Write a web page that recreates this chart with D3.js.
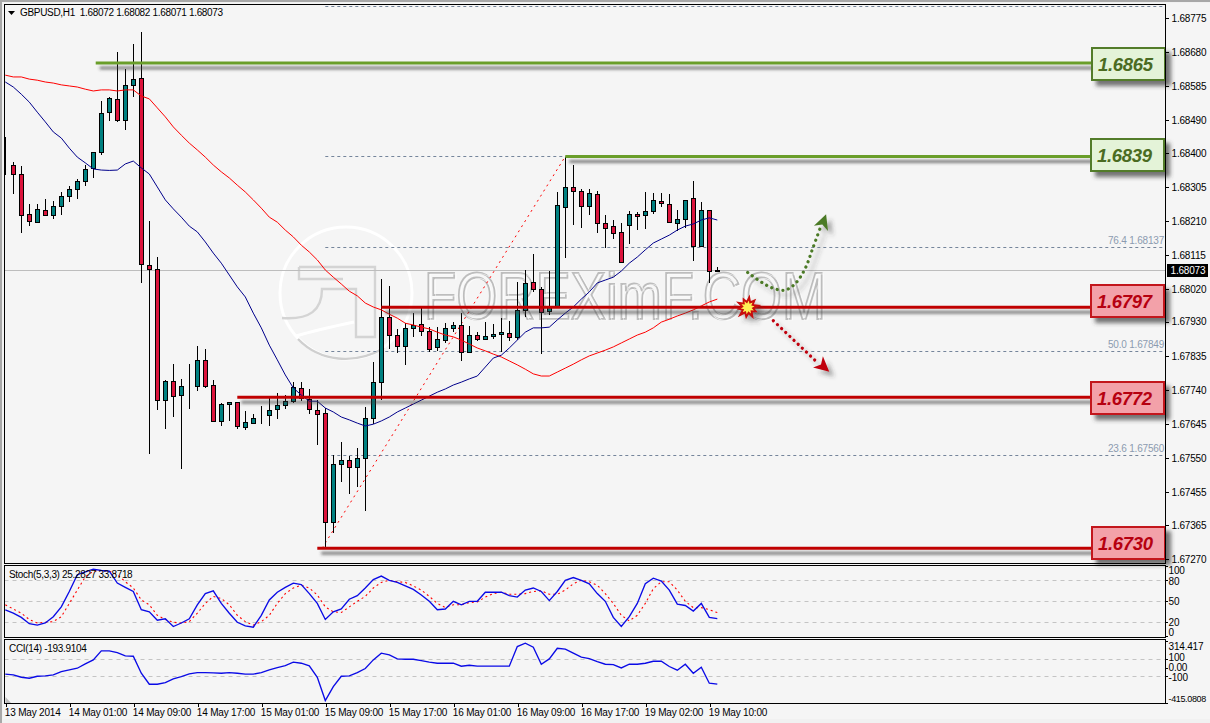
<!DOCTYPE html>
<html>
<head>
<meta charset="utf-8">
<title>GBPUSD H1</title>
<script src="https://cdn.jsdelivr.net/npm/d3@7/dist/d3.min.js"></script>
<style>
  html, body { margin: 0; padding: 0; background: #f1f1f1; }
  svg { display: block; }
  text { font-family: "Liberation Sans", Arial, sans-serif; }
</style>
</head>
<body>
<svg id="chart" width="1210" height="723"></svg>
<script>
// Hourly GBPUSD bars, 13 May 2014 17:00 onward
const opens = [1.68366,1.68366,1.68341,1.68230,1.68207,1.68241,1.68227,1.68252,1.68280,1.68299,1.68321,1.68358,1.68402,1.68513,1.68550,1.68491,1.68589,1.68608,1.68088,1.68077,1.67712,1.67765,1.67726,1.67751,1.67751,1.67824,1.67754,1.67654,1.67701,1.67707,1.67637,1.67648,1.67662,1.67670,1.67687,1.67698,1.67709,1.67746,1.67715,1.67684,1.67676,1.67373,1.67534,1.67545,1.67526,1.67551,1.67662,1.67762,1.67943,1.67893,1.67862,1.67913,1.67924,1.67904,1.67860,1.67879,1.67913,1.67921,1.67846,1.67893,1.67882,1.67890,1.67896,1.67899,1.67888,1.67963,1.68040,1.68021,1.67960,1.67971,1.68249,1.68305,1.68294,1.68252,1.68285,1.68205,1.68196,1.68180,1.68199,1.68230,1.68227,1.68238,1.68266,1.68257,1.68205,1.68216,1.68274,1.68141,1.68241,1.68072];
const highs = [1.68444,1.68374,1.68363,1.68257,1.68257,1.68271,1.68266,1.68291,1.68308,1.68327,1.68366,1.68402,1.68544,1.68555,1.68680,1.68633,1.68703,1.68736,1.68210,1.68110,1.67768,1.67812,1.67771,1.67812,1.67862,1.67854,1.67768,1.67704,1.67707,1.67707,1.67682,1.67673,1.67696,1.67718,1.67732,1.67726,1.67762,1.67762,1.67743,1.67712,1.67690,1.67559,1.67595,1.67556,1.67579,1.67693,1.67818,1.68049,1.68029,1.67910,1.67926,1.67954,1.67971,1.67915,1.67915,1.67926,1.67929,1.67954,1.67918,1.67901,1.67929,1.67924,1.67940,1.67932,1.68040,1.68074,1.68118,1.68027,1.68071,1.68291,1.68388,1.68366,1.68299,1.68299,1.68294,1.68227,1.68213,1.68205,1.68238,1.68235,1.68291,1.68288,1.68288,1.68285,1.68241,1.68269,1.68321,1.68263,1.68241,1.68082];
const lows = [1.68338,1.68285,1.68177,1.68196,1.68205,1.68224,1.68216,1.68227,1.68263,1.68271,1.68308,1.68330,1.68394,1.68488,1.68486,1.68463,1.68555,1.68038,1.67562,1.67684,1.67632,1.67665,1.67520,1.67687,1.67737,1.67746,1.67651,1.67640,1.67654,1.67632,1.67629,1.67648,1.67645,1.67640,1.67659,1.67687,1.67704,1.67709,1.67673,1.67587,1.67303,1.67342,1.67484,1.67451,1.67470,1.67403,1.67645,1.67712,1.67854,1.67843,1.67810,1.67888,1.67890,1.67846,1.67849,1.67871,1.67901,1.67821,1.67843,1.67876,1.67879,1.67882,1.67846,1.67876,1.67879,1.67943,1.68013,1.67840,1.67949,1.67968,1.68107,1.68199,1.68191,1.68227,1.68177,1.68135,1.68160,1.68093,1.68146,1.68185,1.68188,1.68230,1.68249,1.68205,1.68182,1.68191,1.68099,1.68141,1.68038,1.68071];
const closes = [1.68366,1.68341,1.68227,1.68210,1.68244,1.68227,1.68252,1.68280,1.68299,1.68321,1.68355,1.68402,1.68511,1.68552,1.68491,1.68589,1.68605,1.68091,1.68077,1.67712,1.67765,1.67723,1.67751,1.67751,1.67824,1.67751,1.67654,1.67701,1.67707,1.67640,1.67651,1.67662,1.67662,1.67684,1.67698,1.67709,1.67748,1.67718,1.67687,1.67673,1.67373,1.67534,1.67545,1.67526,1.67551,1.67662,1.67762,1.67943,1.67893,1.67862,1.67913,1.67921,1.67904,1.67854,1.67882,1.67913,1.67921,1.67846,1.67893,1.67882,1.67890,1.67896,1.67901,1.67888,1.67963,1.68038,1.68021,1.67957,1.67971,1.68255,1.68305,1.68294,1.68252,1.68288,1.68205,1.68191,1.68177,1.68096,1.68230,1.68224,1.68238,1.68269,1.68260,1.68207,1.68216,1.68269,1.68141,1.68241,1.68071,1.68073];

// Moving averages on the price pane
const fastMA = [1.68597,1.68583,1.68563,1.68541,1.68513,1.68486,1.68458,1.68441,1.68413,1.68388,1.68372,1.68355,1.68352,1.68351,1.68352,1.68369,1.68377,1.68358,1.68341,1.68305,1.68269,1.68244,1.68221,1.68196,1.68180,1.68152,1.68121,1.68093,1.68060,1.68027,1.67999,1.67954,1.67913,1.67865,1.67824,1.67782,1.67746,1.67726,1.67709,1.67709,1.67690,1.67679,1.67665,1.67657,1.67648,1.67640,1.67645,1.67654,1.67665,1.67679,1.67690,1.67701,1.67712,1.67723,1.67734,1.67743,1.67754,1.67762,1.67771,1.67779,1.67804,1.67829,1.67837,1.67857,1.67879,1.67901,1.67913,1.67913,1.67915,1.67935,1.67954,1.67971,1.67993,1.68013,1.68038,1.68046,1.68054,1.68071,1.68093,1.68110,1.68130,1.68149,1.68160,1.68171,1.68185,1.68196,1.68202,1.68213,1.68219,1.68213];
const slowMA = [1.68616,1.68611,1.68611,1.68605,1.68602,1.68597,1.68594,1.68589,1.68586,1.68583,1.68577,1.68572,1.68575,1.68575,1.68572,1.68575,1.68575,1.68558,1.68550,1.68525,1.68500,1.68472,1.68449,1.68427,1.68408,1.68388,1.68366,1.68347,1.68330,1.68310,1.68291,1.68269,1.68246,1.68221,1.68207,1.68185,1.68166,1.68143,1.68124,1.68102,1.68074,1.68054,1.68035,1.68015,1.68002,1.67982,1.67971,1.67963,1.67951,1.67940,1.67926,1.67921,1.67915,1.67910,1.67901,1.67893,1.67888,1.67879,1.67868,1.67857,1.67849,1.67840,1.67832,1.67821,1.67810,1.67798,1.67785,1.67779,1.67779,1.67790,1.67801,1.67812,1.67824,1.67835,1.67843,1.67851,1.67860,1.67871,1.67882,1.67893,1.67901,1.67913,1.67929,1.67937,1.67946,1.67954,1.67963,1.67974,1.67985,1.67993];

// Stochastic (5,3,3)
const stochMain = [37.6,33,27,18,16,19,28,42,64,88,92,96,94,93,76,70,64,38,35,23,25,14,19,25,45,61,65,47,33,20,15,13,30,52,63,70,76,74,61,47,24,35,39,53,58,69,81,86,80,77,72,67,59,50,38,39,50,45,50,50,63,63,63,58,56,66,69,64,51,64,80,84,80,75,61,50,27,14,28,47,75,83,79,66,46,44,36,47,27,25.2827];
const stochSignal = [45,39,33,24,19,20,21,28,47,66,85,93,94,93,88,78,69,52,45,30,24,20,19,21,33,47,57,54,45,30,21,16,21,30,47,61,69,73,69,59,42,35,34,42,50,57,69,77,80,78,77,72,66,57,47,41,45,45,48,49,56,61,63,60,60,61,64,65,60,60,66,75,80,78,73,61,47,30,22,30,47,68,78,78,66,50,41,41,38,33.8718];

// CCI (14)
const cciValues = [-76,-84,-112,-124,-100,-96,-84,-45,-25,-6,45,92,198,198,178,139,135,-65,-194,-194,-175,-131,-104,-73,-57,-57,-61,-65,-57,-65,-76,-76,-57,-25,2,25,65,53,22,-112,-386,-222,-100,-96,-57,-10,92,171,151,104,100,100,84,65,53,53,53,18,29,18,18,18,18,18,249,288,241,41,104,229,218,171,124,108,73,41,37,-2,41,41,53,76,76,14,-29,41,-65,6,-182,-193.9104];

// Axis content
const priceTicks = [1.68775,1.68680,1.68585,1.68490,1.68400,1.68305,1.68210,1.68115,1.68020,1.67930,1.67835,1.67740,1.67645,1.67550,1.67455,1.67365,1.67270];
const timeTickBars = [0,8,16,24,32,40,48,56,64,72,80,88];
const timeTickLabels = ["13 May 2014","14 May 01:00","14 May 09:00","14 May 17:00","15 May 01:00","15 May 09:00","15 May 17:00","16 May 01:00","16 May 09:00","16 May 17:00","19 May 02:00","19 May 10:00"];
const stochTicks = [100,80,50,20,0];
const cciTicks = [314.417,100,0,-100,-415.0808];
const cciTickLabels = ["314.417","100","0.00","-100","-415.0808"];

// Support and resistance levels with the bar each one starts from
const levelPrices = [1.6865,1.6839,1.6797,1.6772,1.6730];
const levelStartBars = [11.3,70,47,29,39];
const levelKinds = ["up","up","down","down","down"];

// Fibonacci retracement between the swing low and swing high
const fibPercent = [null,null,76.4,50.0,23.6,null];
const fibPrices = [1.68808,1.68390,1.68137,1.67849,1.67560,1.67300];
const swingLow = [39.6,1.67300];
const swingHigh = [70,1.68390];

const lastPrice = 1.68073;

// Projected paths after the 1.6797 retest, as [bar, price]
const bullPath = [[92.8,1.68067],[94.6,1.68039],[96,1.68023],[97.45,1.68018],[98.7,1.68035],[99.96,1.68077],[100.96,1.68136],[102.0,1.68199]];
const bearPath = [[96,1.67933],[101.4,1.67819]];
const bullTip = [102.6,1.68229];
const bearTip = [103,1.67791];
const burstPoint = [92.8,1.67970];

const frame = { left: 4.5, right: 1165.5 };
const svg = d3.select("#chart");

const defs = svg.append("defs");
const wholeCanvasShadow = (id, dx, dy, sd, op) => defs.append("filter").attr("id", id)
  .attr("filterUnits", "userSpaceOnUse").attr("x", 0).attr("y", 0).attr("width", 1210).attr("height", 723)
  .append("feDropShadow").attr("dx", dx).attr("dy", dy).attr("stdDeviation", sd)
  .attr("flood-color", "#3a3a3a").attr("flood-opacity", op);
wholeCanvasShadow("lineGroupShadow", 4, 5, 1.7, 0.65);
wholeCanvasShadow("markShadow", 5, 5, 2.2, 0.4);
wholeCanvasShadow("boxShadow", 5, 5, 2, 0.7);
defs.append("clipPath").attr("id", "pricePane").append("rect")
  .attr("x", 5).attr("y", 5).attr("width", 1160).attr("height", 558);

// Scales
const xBar = d3.scaleLinear().domain([0, 89]).range([5.3, 717.3]);
const yPrice = d3.scaleLinear().domain([1.67270, 1.68775]).range([559, 18]);
const yStoch = d3.scaleLinear().domain([0, 100]).range([636.3, 566.3]);
const yCci = d3.scaleLinear().domain([-415.0808, 314.417]).range([703, 641]);
const barPx = i => Math.floor(xBar(i)) + 0.5;

// Window chrome and pane backgrounds
svg.append("rect").attr("width", 1210).attr("height", 723).attr("fill", "#f1f1f1");
svg.append("rect").attr("width", 1210).attr("height", 2).attr("fill", "#a8a8a8");
svg.append("rect").attr("width", 2).attr("height", 723).attr("fill", "#a8a8a8");
svg.append("rect").attr("x", 3).attr("y", 3).attr("width", 1207).attr("height", 716).attr("fill", "#f5f5f5");

const panes = [[4.5, 563.5], [565.5, 637.5], [639.5, 703.5]];

// Brand watermark sitting behind the price action
const mark = svg.append("g").attr("clip-path", "url(#pricePane)");
mark.append("circle").attr("cx", 346).attr("cy", 293).attr("r", 66)
  .attr("fill", "none").attr("stroke", "#ffffff").attr("stroke-width", 3);
mark.append("path")
  .attr("d", "M299 267H375V337H356V289H322C322 310 310 320 282 318M299 267V279H343")
  .attr("fill", "none").attr("stroke", "#d4d4d4").attr("stroke-width", 2.4);
mark.append("path").attr("d", "M298 339C320 362 355 365 384 348")
  .attr("fill", "none").attr("stroke", "#cfcfcf").attr("stroke-width", 2.4);
mark.append("path").attr("d", "M296 336C316 330 335 326 354 322")
  .attr("fill", "none").attr("stroke", "#ffffff").attr("stroke-width", 3);
mark.append("text").attr("x", 424).attr("y", 318.5).attr("textLength", 402)
  .attr("lengthAdjust", "spacingAndGlyphs").attr("font-size", 67)
  .attr("fill", "#f7f7f7").attr("stroke", "#bdbdbd").attr("stroke-width", 2.1)
  .text("FOREXimF.COM");
mark.append("text").attr("x", 426).attr("y", 319.5).attr("textLength", 402)
  .attr("lengthAdjust", "spacingAndGlyphs").attr("font-size", 67)
  .attr("fill", "none").attr("stroke", "#ffffff").attr("stroke-width", 0.7).attr("opacity", 0.8)
  .text("FOREXimF.COM");

// Fibonacci levels and the dashed swing line
const fib = svg.append("g").attr("clip-path", "url(#pricePane)");
fib.selectAll("line").data(fibPrices).join("line")
  .attr("x1", xBar(40)).attr("x2", frame.right)
  .attr("y1", d => Math.round(yPrice(d)) + 0.5).attr("y2", d => Math.round(yPrice(d)) + 0.5)
  .attr("stroke", "#75859b").attr("stroke-width", 1).attr("stroke-dasharray", "3,3");
fib.selectAll("text").data(fibPrices.map((p, i) => ({ p, pct: fibPercent[i] })).filter(d => d.pct !== null)).join("text")
  .attr("x", 1164).attr("y", d => yPrice(d.p) - 3)
  .attr("text-anchor", "end").attr("font-size", 10).attr("letter-spacing", -0.2).attr("fill", "#8c9bb0")
  .text(d => `${d.pct.toFixed(1)} ${d3.format(".5f")(d.p)}`);
svg.append("line")
  .attr("x1", xBar(swingLow[0])).attr("y1", yPrice(swingLow[1]))
  .attr("x2", xBar(swingHigh[0])).attr("y2", yPrice(swingHigh[1]))
  .attr("stroke", "#ff0000").attr("stroke-width", 1).attr("stroke-dasharray", "2,4");

// Last price rule
svg.append("line").attr("x1", frame.left).attr("x2", frame.right)
  .attr("y1", Math.round(yPrice(lastPrice)) + 0.5).attr("y2", Math.round(yPrice(lastPrice)) + 0.5)
  .attr("stroke", "#bdbdbd");

// Candles
const candles = svg.append("g").attr("shape-rendering", "crispEdges")
  .selectAll("g").data(d3.range(opens.length)).join("g");
candles.append("line")
  .attr("x1", barPx).attr("x2", barPx)
  .attr("y1", i => Math.round(yPrice(highs[i]))).attr("y2", i => Math.round(yPrice(lows[i])))
  .attr("stroke", "#000");
candles.append("rect")
  .attr("x", i => barPx(i) - 2).attr("width", 4)
  .attr("y", i => Math.round(yPrice(Math.max(opens[i], closes[i]))) + 0.5)
  .attr("height", i => Math.round(yPrice(Math.min(opens[i], closes[i]))) - Math.round(yPrice(Math.max(opens[i], closes[i]))))
  .attr("fill", i => closes[i] >= opens[i] ? "#008080" : "#dc143c")
  .attr("stroke", "#000");

// Moving averages
const maLine = d3.line().x((d, i) => xBar(i)).y(d => yPrice(d));
svg.append("path").attr("d", maLine(slowMA)).attr("fill", "none").attr("stroke", "#ff0000").attr("stroke-width", 1);
svg.append("path").attr("d", maLine(fastMA)).attr("fill", "none").attr("stroke", "#00008b").attr("stroke-width", 1);

// Support and resistance rules
const levelColor = { up: "#6a9e2c", down: "#c00000" };
const boxStyle = {
  up: { fill: "#e4f3d8", stroke: "#537b2c", text: "#4b6b22" },
  down: { fill: "#f3a1a9", stroke: "#c3121c", text: "#b60010" }
};
const boxLeft = 1091;
svg.append("g").attr("filter", "url(#lineGroupShadow)")
  .selectAll("line").data(levelPrices).join("line")
  .attr("x1", (d, i) => xBar(levelStartBars[i])).attr("x2", boxLeft)
  .attr("y1", d => yPrice(d)).attr("y2", d => yPrice(d))
  .attr("stroke", (d, i) => levelColor[levelKinds[i]]).attr("stroke-width", 3);

// Projection arrows and the retest burst
const annotations = svg.append("g").attr("filter", "url(#markShadow)");
const pathLine = d3.line().curve(d3.curveCatmullRom).x(d => xBar(d[0])).y(d => yPrice(d[1]));
annotations.append("path").attr("d", pathLine(bullPath)).attr("fill", "none")
  .attr("stroke", "#4c7a26").attr("stroke-width", 3.2).attr("stroke-linecap", "round").attr("stroke-dasharray", "0.1,5.6");
annotations.append("path").attr("d", pathLine(bearPath)).attr("fill", "none")
  .attr("stroke", "#c00010").attr("stroke-width", 3.2).attr("stroke-linecap", "round").attr("stroke-dasharray", "0.1,5.6");
const arrowHead = (tip, angle, color) => annotations.append("path")
  .attr("transform", `translate(${xBar(tip[0])},${yPrice(tip[1])}) rotate(${angle})`)
  .attr("d", "M0 0L-7.5 15L0 11L7.5 15Z").attr("fill", color);
arrowHead(bullTip, 20, "#4c7a26");
arrowHead(bearTip, 131, "#c00010");

const burstOuter = [13, 7, 12, 7, 14, 7, 11, 7, 13, 7, 12, 7, 14, 7, 11, 7, 13, 7, 11, 7];
const burstInner = [7, 4, 7, 4, 7, 4, 7, 4, 7, 4, 7, 4, 7, 4, 7, 4, 7, 4, 7, 4];
const burstShape = radii => d3.lineRadial().angle((d, i) => i / radii.length * 2 * Math.PI + 0.15).radius(d => d)
  .curve(d3.curveLinearClosed)(radii);
const burst = annotations.append("g").attr("transform", `translate(${xBar(burstPoint[0])},${yPrice(burstPoint[1])})`);
burst.append("path").attr("d", burstShape(burstOuter)).attr("fill", "#c80808");
burst.append("path").attr("d", burstShape(burstInner)).attr("fill", "#ffee55");

// Level tags on the right edge
const boxTops = [48, 139, 285, 382, 527];
const boxLefts = [1092, 1091, 1091, 1091, 1092];
const tags = svg.append("g").selectAll("g").data(levelPrices).join("g");
tags.append("rect")
  .attr("x", (d, i) => boxLefts[i]).attr("y", (d, i) => boxTops[i])
  .attr("width", 73).attr("height", 32)
  .attr("fill", (d, i) => boxStyle[levelKinds[i]].fill)
  .attr("stroke", (d, i) => boxStyle[levelKinds[i]].stroke).attr("stroke-width", 2)
  .attr("filter", "url(#boxShadow)");
tags.append("text")
  .attr("x", (d, i) => boxLefts[i] + 6).attr("y", (d, i) => boxTops[i] + 23)
  .attr("font-size", 18.5).attr("font-weight", "bold").attr("font-style", "italic")
  .attr("letter-spacing", -0.3)
  .attr("fill", (d, i) => boxStyle[levelKinds[i]].text)
  .text(d => d3.format(".4f")(d));

// Indicator reference lines
const guideLines = (scale, values) => svg.append("g").selectAll("line").data(values).join("line")
  .attr("x1", frame.left).attr("x2", frame.right)
  .attr("y1", d => Math.round(scale(d)) + 0.5).attr("y2", d => Math.round(scale(d)) + 0.5)
  .attr("stroke", "#c4c4c4").attr("stroke-dasharray", "4,4");
guideLines(yStoch, [80, 50, 20]);
guideLines(yCci, [100, -100]);

// Indicator series
const stochLine = d3.line().x((d, i) => xBar(i)).y(d => yStoch(d));
svg.append("path").attr("d", stochLine(stochSignal)).attr("fill", "none")
  .attr("stroke", "#ff0000").attr("stroke-width", 1.1).attr("stroke-dasharray", "2,3");
svg.append("path").attr("d", stochLine(stochMain)).attr("fill", "none")
  .attr("stroke", "#0a0ae6").attr("stroke-width", 1.35);
const cciLine = d3.line().x((d, i) => xBar(i)).y(d => yCci(d));
svg.append("path").attr("d", cciLine(cciValues)).attr("fill", "none")
  .attr("stroke", "#0a0ae6").attr("stroke-width", 1.35);

// Pane frames
svg.append("g").selectAll("rect").data(panes).join("rect")
  .attr("x", frame.left).attr("y", d => d[0]).attr("width", frame.right - frame.left).attr("height", d => d[1] - d[0])
  .attr("fill", "none").attr("stroke", "#000").attr("shape-rendering", "crispEdges");
svg.append("path").attr("d", "M5.5 703V697L11 703Z").attr("fill", "#bdbdbd");

// Price, indicator and time axes
const styleAxis = g => {
  g.select(".domain").remove();
  g.selectAll("line").attr("stroke", "#000").attr("shape-rendering", "crispEdges");
  g.selectAll("text").attr("fill", "#000").attr("font-size", 10).attr("letter-spacing", -0.18);
};
svg.append("g").attr("transform", `translate(${frame.right},0)`)
  .call(d3.axisRight(yPrice).tickValues(priceTicks).tickFormat(d3.format(".5f")).tickSize(3).tickPadding(3))
  .call(styleAxis);

// Outer indicator labels are pulled inward so neighbours stay readable
const stochAxis = svg.append("g").attr("transform", `translate(${frame.right},0)`)
  .call(d3.axisRight(yStoch).tickValues(stochTicks).tickSize(2).tickPadding(1))
  .call(styleAxis);
const stochNudge = [4.2, 0.8, 0, -0.6, -4.6];
stochAxis.selectAll("text").attr("dy", (d, i) => 3.3 + stochNudge[i]);

const cciAxis = svg.append("g").attr("transform", `translate(${frame.right},0)`)
  .call(d3.axisRight(yCci).tickValues(cciTicks).tickFormat((d, i) => cciTickLabels[i]).tickSize(2).tickPadding(1))
  .call(styleAxis);
const cciNudge = [5.5, -2, -1, 0.6, -5];
cciAxis.selectAll("text").attr("dy", (d, i) => 3.3 + cciNudge[i])
  .filter(d => d < -400).attr("font-size", 9).attr("letter-spacing", -0.35);

const timeAxis = svg.append("g").attr("transform", "translate(0,703.5)")
  .call(d3.axisBottom(xBar).tickValues(timeTickBars).tickFormat((d, i) => timeTickLabels[i]).tickSize(3).tickPadding(2))
  .call(styleAxis);
timeAxis.selectAll("text").attr("text-anchor", "start").attr("dx", -1);
timeAxis.selectAll("line").attr("x1", 0.5).attr("x2", 0.5);

// Last price tag
svg.append("rect").attr("x", 1167).attr("y", Math.round(yPrice(lastPrice)) - 6)
  .attr("width", 41).attr("height", 13).attr("fill", "#000");
svg.append("text").attr("x", 1170.5).attr("y", Math.round(yPrice(lastPrice)) + 4)
  .attr("font-size", 10).attr("letter-spacing", -0.18).attr("fill", "#fff")
  .text(d3.format(".5f")(lastPrice));

// Pane captions
svg.append("path").attr("d", "M8 11H15L11.5 15Z").attr("fill", "#000");
const caption = (x, y, s) => svg.append("text").attr("x", x).attr("y", y)
  .attr("font-size", 10).attr("letter-spacing", -0.32).attr("fill", "#000").attr("xml:space", "preserve").text(s);
caption(20, 16, `GBPUSD,H1  ${[opens, highs, lows, closes].map(a => d3.format(".5f")(a[a.length - 1])).join(" ")}`);
caption(9, 578, `Stoch(5,3,3) ${stochMain[stochMain.length - 1]} ${stochSignal[stochSignal.length - 1]}`);
caption(9, 652, `CCI(14) ${cciValues[cciValues.length - 1]}`);
</script>
</body>
</html>
